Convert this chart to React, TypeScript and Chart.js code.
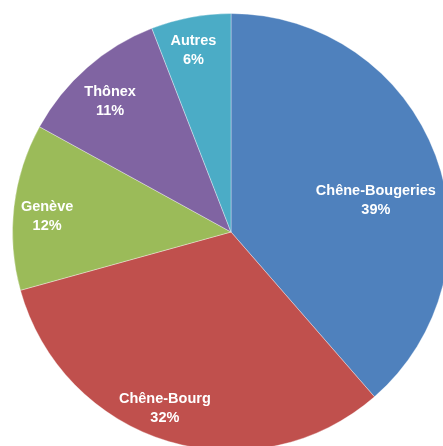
import React, { useEffect, useRef } from "react";
import { Chart, registerables } from "chart.js";

Chart.register(...registerables);

const categories = ["Chêne-Bougeries", "Chêne-Bourg", "Genève", "Thônex", "Autres"];
const values = [38.6, 32.1, 12.3, 11.1, 5.9];
const colors = ["#4F81BD", "#C0504D", "#9BBB59", "#8064A2", "#4BACC6"];
// label placement: [fraction of radius, angle offset in degrees]
const labelPlacement: [number, number][] = [
  [0.68, 7.7],
  [0.855, 4.0],
  [0.845, -1.5],
  [0.82, -1.2],
  [0.855, -1.0],
];

const labelPlugin = {
  id: "sliceLabels",
  afterDatasetsDraw(chart: any) {
    const ctx = chart.ctx;
    const meta = chart.getDatasetMeta(0);
    const total = values.reduce((a, b) => a + b, 0);
    ctx.save();
    ctx.fillStyle = "#FFFFFF";
    ctx.font = "bold 14.5px 'Liberation Sans', Arial, sans-serif";
    ctx.textAlign = "center";
    ctx.textBaseline = "middle";
    meta.data.forEach((arc: any, i: number) => {
      const p = arc.getProps(["x", "y", "startAngle", "endAngle", "outerRadius"], true);
      const [frac, off] = labelPlacement[i];
      const a = (p.startAngle + p.endAngle) / 2 + (off * Math.PI) / 180;
      const r = p.outerRadius * frac;
      const cx = p.x + Math.cos(a) * r;
      const cy = p.y + Math.sin(a) * r + 1.5;
      const pct = Math.round((values[i] / total) * 100) + "%";
      ctx.fillText(categories[i], cx, cy - 9.5);
      ctx.fillText(pct, cx, cy + 9.5);
    });
    ctx.restore();
  },
};

export default function App() {
  const ref = useRef<HTMLCanvasElement>(null);
  useEffect(() => {
    if (!ref.current) return;
    const chart = new Chart(ref.current, {
      type: "pie",
      data: {
        labels: categories,
        datasets: [
          {
            data: values,
            backgroundColor: colors,
            borderColor: "rgba(255,255,255,0.35)",
            borderWidth: 1,
          },
        ],
      },
      options: {
        responsive: false,
        animation: false,
        layout: { padding: { left: 12, right: 12, top: 13, bottom: 13 } },
        plugins: {
          legend: { display: false },
          tooltip: { enabled: false },
        },
      },
      plugins: [labelPlugin],
    });
    return () => chart.destroy();
  }, []);
  return (
    <div
      style={{
        position: "absolute",
        left: 0,
        top: 0,
        width: 443,
        height: 446,
        overflow: "hidden",
        background: "#FFFFFF",
      }}
    >
      <canvas ref={ref} width={462} height={464} style={{ display: "block" }} />
    </div>
  );
}
